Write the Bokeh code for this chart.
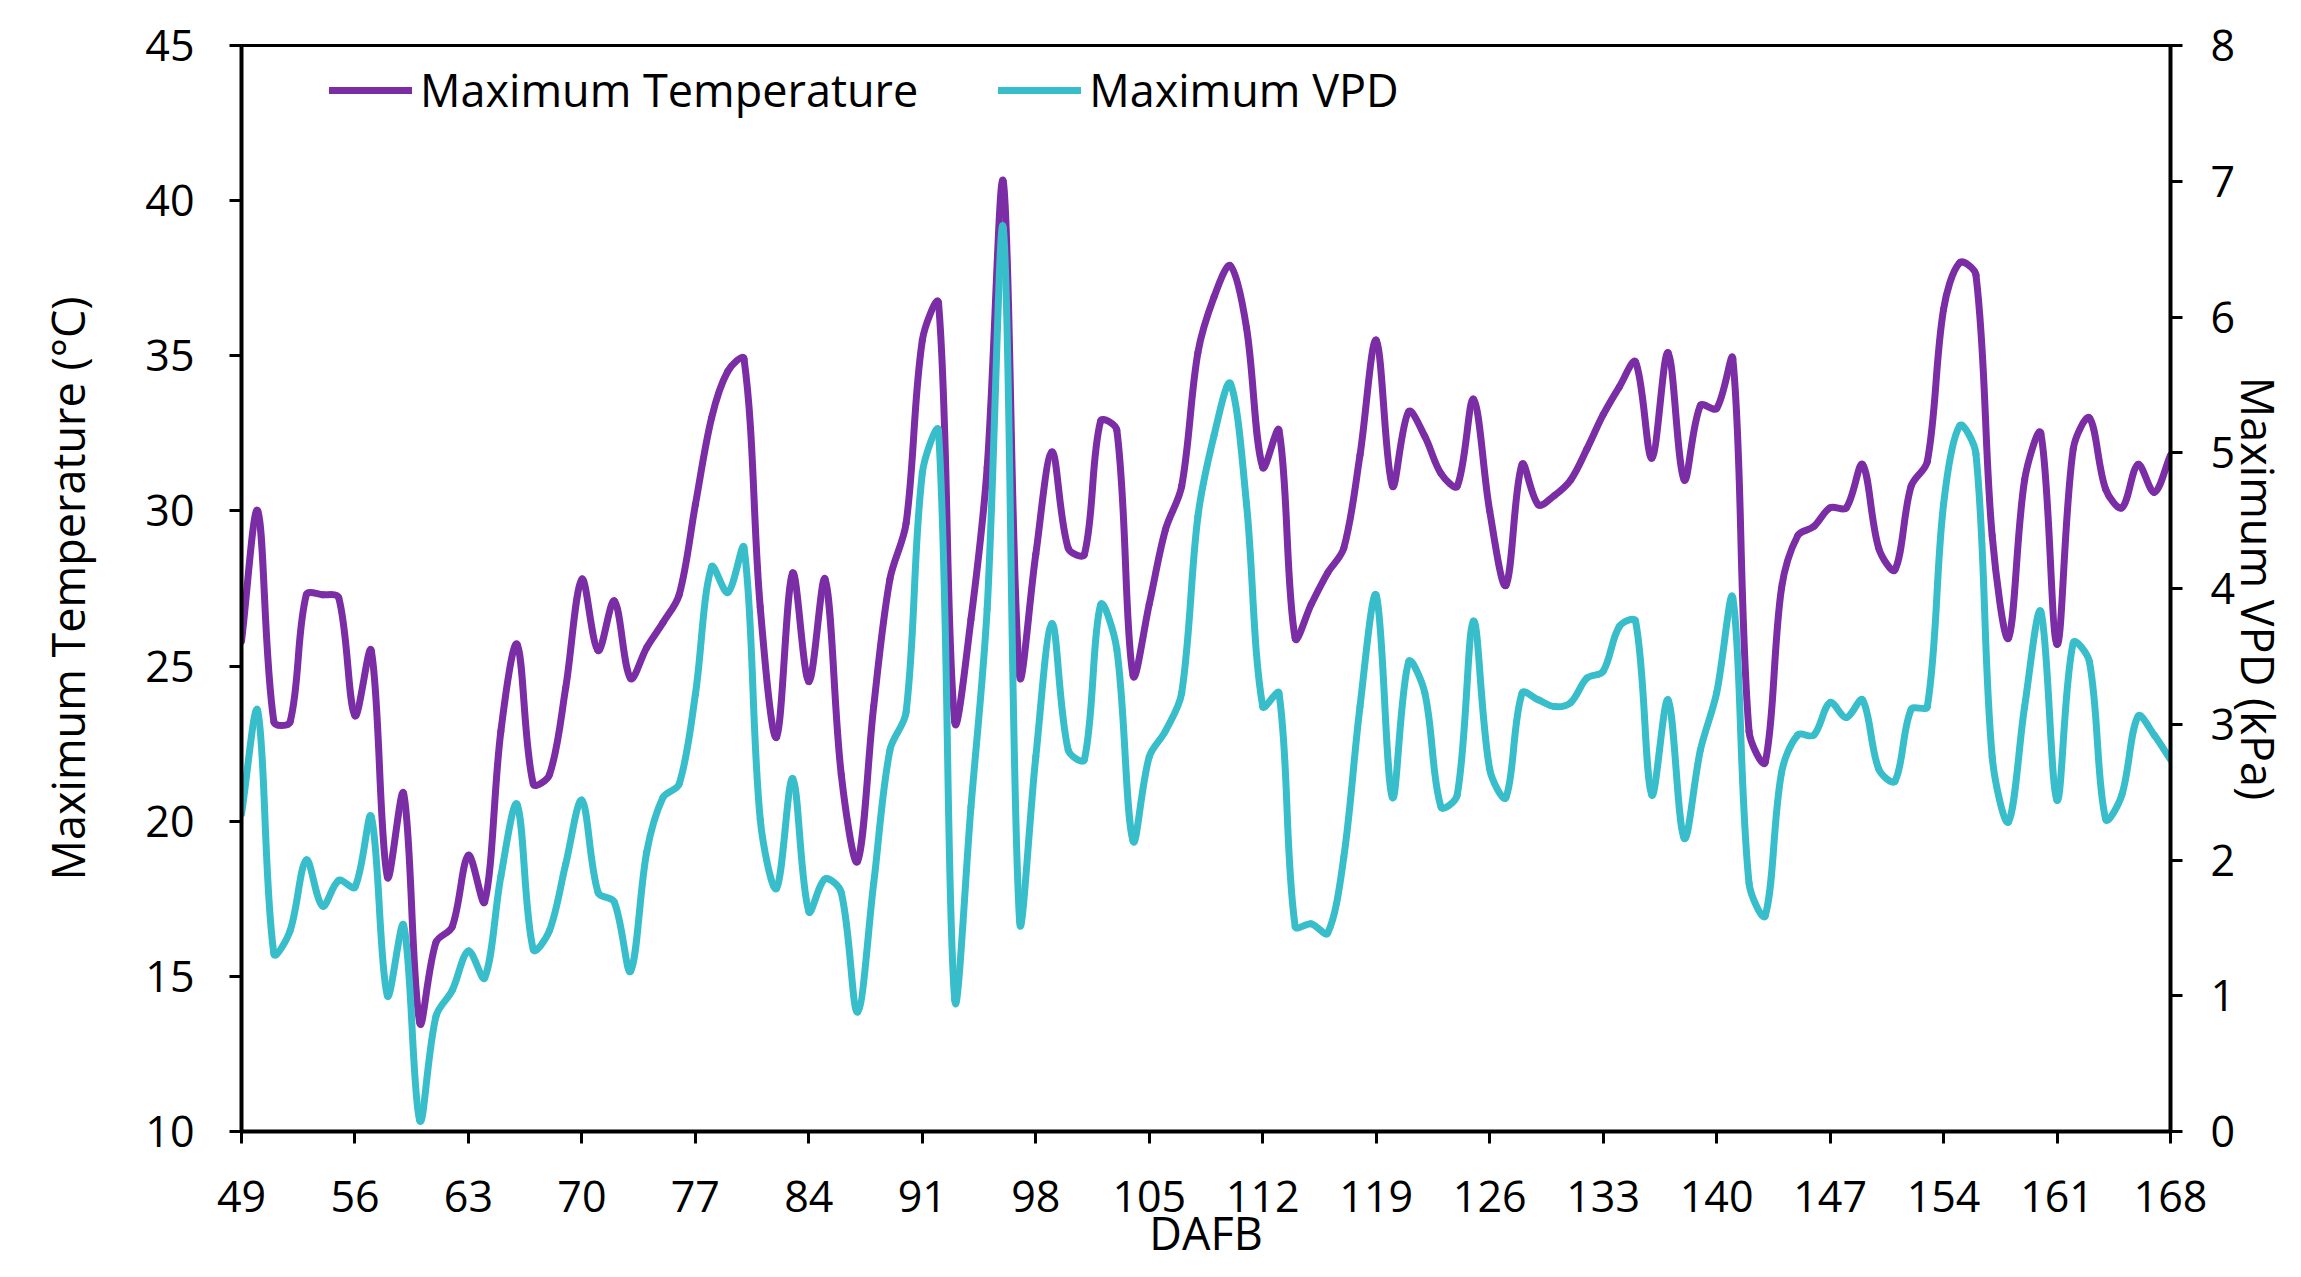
import numpy as np
from bokeh.plotting import figure
from bokeh.models import Range1d, LinearAxis, FixedTicker, Legend, LegendItem, ColumnDataSource
from bokeh.embed import file_html
from bokeh.resources import INLINE

# ---- data ----
days = list(range(49, 169))

max_temp = [
    25.8, 30.0, 23.2, 23.2, 27.3, 27.3, 27.2,   # 49-55
    23.4, 25.5, 18.2, 20.9, 13.5, 16.1, 16.6,   # 56-62
    18.9, 17.4, 22.9, 25.7, 21.2, 21.5, 24.3,   # 63-69
    27.8, 25.5, 27.1, 24.6, 25.6, 26.4, 27.3,   # 70-76
    30.2, 33.0, 34.5, 34.9, 26.9, 22.7, 28.0,   # 77-83
    24.5, 27.8, 21.5, 18.7, 23.7, 27.8, 29.6,   # 84-90
    35.5, 36.7, 23.2, 26.5, 31.4, 40.6, 24.7,   # 91-97
    28.6, 31.9, 28.8, 28.6, 32.9, 32.6, 24.7,   # 98-104
    27.0, 29.4, 30.8, 35.1, 36.9, 37.9, 35.9,   # 105-111
    31.4, 32.6, 25.9, 27.0, 28.0, 28.8, 31.8,   # 112-118
    35.5, 30.8, 33.2, 32.4, 31.2, 30.8, 33.6,   # 119-125
    30.0, 27.6, 31.5, 30.2, 30.5, 31.0, 32.0,   # 126-132
    33.1, 34.0, 34.8, 31.7, 35.1, 31.0, 33.4,   # 133-139
    33.3, 34.9, 22.9, 21.9, 27.5, 29.2, 29.5,   # 140-146
    30.1, 30.1, 31.5, 28.8, 28.1, 30.8, 31.6,   # 147-153
    36.5, 38.0, 37.6, 29.2, 25.9, 31.0, 32.5,   # 154-160
    25.7, 32.0, 33.0, 30.7, 30.1, 31.5, 30.6,   # 161-167
    31.8,                                       # 168
]

max_vpd = [
    2.34, 3.10, 1.31, 1.48, 2.00, 1.66, 1.85,   # 49-55
    1.80, 2.32, 1.00, 1.52, 0.08, 0.85, 1.04,   # 56-62
    1.33, 1.13, 1.88, 2.41, 1.34, 1.48, 1.97,   # 63-69
    2.44, 1.76, 1.69, 1.18, 2.06, 2.46, 2.56,   # 70-76
    3.22, 4.16, 3.97, 4.30, 2.30, 1.79, 2.60,   # 77-83
    1.62, 1.86, 1.76, 0.88, 1.83, 2.81, 3.09,   # 84-90
    4.85, 5.16, 0.97, 2.39, 3.85, 6.65, 1.55,   # 91-97
    2.76, 3.74, 2.81, 2.74, 3.88, 3.55, 2.14,   # 98-104
    2.76, 2.95, 3.23, 4.53, 5.13, 5.51, 4.62,   # 105-111
    3.13, 3.23, 1.51, 1.53, 1.46, 2.02, 3.13,   # 112-118
    3.95, 2.46, 3.46, 3.23, 2.39, 2.48, 3.76,   # 119-125
    2.67, 2.46, 3.23, 3.18, 3.13, 3.16, 3.34,   # 126-132
    3.39, 3.72, 3.76, 2.48, 3.18, 2.16, 2.81,   # 133-139
    3.23, 3.93, 1.83, 1.59, 2.64, 2.92, 2.92,   # 140-146
    3.16, 3.05, 3.18, 2.67, 2.58, 3.11, 3.13,   # 147-153
    4.62, 5.20, 4.99, 2.76, 2.28, 3.13, 3.83,   # 154-160
    2.44, 3.60, 3.46, 2.30, 2.48, 3.06, 2.92,   # 161-167
    2.74,                                       # 168
]

x_ticks = [49, 56, 63, 70, 77, 84, 91, 98, 105, 112, 119, 126, 133, 140, 147, 154, 161, 168]
temp_ticks = [10, 15, 20, 25, 30, 35, 40, 45]
vpd_ticks = [0, 1, 2, 3, 4, 5, 6, 7, 8]

series_names = ["Maximum Temperature", "Maximum VPD"]
x_label = "DAFB"
temp_label = "Maximum Temperature (°C)"
vpd_label = "Maximum VPD (kPa)"

# ---- styles ----
TEMP_COLOR = "#7A2DA5"
VPD_COLOR = "#38BDCB"
FONT = "Open Sans"
TICK_SIZE = "43px"
LABEL_SIZE = "45px"
FRAME_W, FRAME_H = 1929, 1086
TENSION = 1.0 / 3.0


def smooth_source(xs, ys, x_span, y_span):
    """Bezier segments through every data point (Excel-like smoothed line).
    Control handles are scaled by the neighbouring chord lengths (on screen)."""
    x = np.asarray(xs, dtype=float)
    y = np.asarray(ys, dtype=float)
    sx, sy = FRAME_W / x_span, FRAME_H / y_span
    xp = np.concatenate([[x[0]], x, [x[-1]]])
    yp = np.concatenate([[y[0]], y, [y[-1]]])
    tx = xp[2:] - xp[:-2]
    ty = yp[2:] - yp[:-2]
    d_prev = np.hypot((xp[1:-1] - xp[:-2]) * sx, (yp[1:-1] - yp[:-2]) * sy)
    d_next = np.hypot((xp[2:] - xp[1:-1]) * sx, (yp[2:] - yp[1:-1]) * sy)
    tot = d_prev + d_next
    tot[tot == 0] = 1.0
    fa = TENSION * d_prev / tot   # handle before point
    fb = TENSION * d_next / tot   # handle after point
    return ColumnDataSource(dict(
        x0=x[:-1], y0=y[:-1], x1=x[1:], y1=y[1:],
        cx0=x[:-1] + fb[:-1] * tx[:-1], cy0=y[:-1] + fb[:-1] * ty[:-1],
        cx1=x[1:] - fa[1:] * tx[1:], cy1=y[1:] - fa[1:] * ty[1:],
    ))


p = figure(
    width=2293, height=1269,
    output_backend="svg", toolbar_location=None,
    x_range=Range1d(49, 168), y_range=Range1d(10, 45),
    min_border_left=241, min_border_right=123,
    min_border_top=45, min_border_bottom=138,
    background_fill_color="white", border_fill_color="white",
)
p.extra_y_ranges = {"vpd": Range1d(0, 8)}

p.xgrid.grid_line_color = None
p.ygrid.grid_line_color = None
p.outline_line_color = "black"
p.outline_line_width = 3

bez = dict(x0="x0", y0="y0", x1="x1", y1="y1",
           cx0="cx0", cy0="cy0", cx1="cx1", cy1="cy1")
r_temp = p.bezier(**bez, source=smooth_source(days, max_temp, 119, 35),
                  line_color=TEMP_COLOR, line_width=7, line_cap="round")
r_vpd = p.bezier(**bez, source=smooth_source(days, max_vpd, 119, 8),
                 line_color=VPD_COLOR, line_width=7, line_cap="round",
                 y_range_name="vpd")

right_axis = LinearAxis(y_range_name="vpd", axis_label=vpd_label)
p.add_layout(right_axis, "right")


def style_axis(ax, ticks, standoff, label_standoff):
    ax.ticker = FixedTicker(ticks=ticks)
    ax.axis_line_color = "black"
    ax.axis_line_width = 4
    ax.major_tick_line_color = "black"
    ax.major_tick_line_width = 3
    ax.major_tick_out = 12
    ax.major_tick_in = 0
    ax.minor_tick_line_color = None
    ax.major_label_text_font = FONT
    ax.major_label_text_font_size = TICK_SIZE
    ax.major_label_text_color = "black"
    ax.major_label_standoff = standoff
    ax.axis_label_text_font = FONT
    ax.axis_label_text_font_size = LABEL_SIZE
    ax.axis_label_text_font_style = "normal"
    ax.axis_label_text_color = "black"
    ax.axis_label_standoff = label_standoff


xa = p.xaxis[0]
xa.axis_label = x_label
style_axis(xa, x_ticks, 37, -13)

ya = p.yaxis[0]
ya.axis_label = temp_label
style_axis(ya, temp_ticks, 35, 44)

style_axis(right_axis, vpd_ticks, 28, -10)

legend = Legend(
    items=[LegendItem(label=series_names[0], renderers=[r_temp]),
           LegendItem(label=series_names[1], renderers=[r_vpd])],
    orientation="horizontal",
    location=(88, 1011),
    label_text_font=FONT,
    label_text_font_size=LABEL_SIZE,
    label_text_color="black",
    glyph_width=83,
    label_standoff=8,
    spacing=80,
    padding=0,
    margin=0,
    border_line_alpha=0,
    background_fill_alpha=0,
)
p.add_layout(legend)

open("out.html", "w").write(file_html(p, INLINE))
